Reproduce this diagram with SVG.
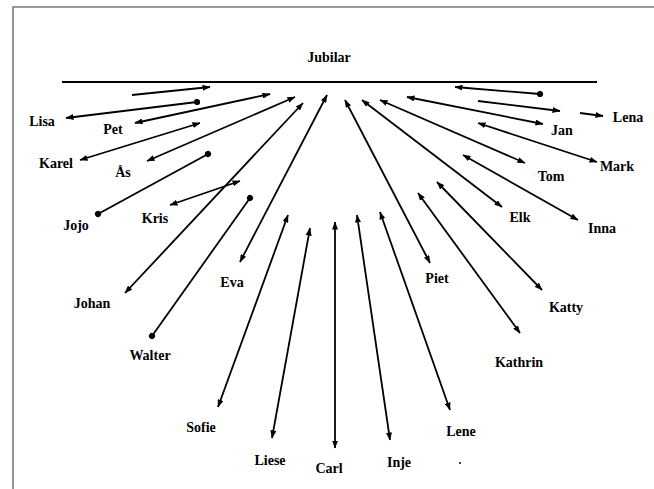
<svg xmlns="http://www.w3.org/2000/svg" width="654" height="489" viewBox="0 0 654 489">
  <style>
    .frame { stroke: #7a7a7a; stroke-width: 1.6; fill: none; }
    .base { stroke: #000; stroke-width: 1.8; }
    .link { stroke: #000; stroke-width: 1.8; fill: none; marker-start: url(#arrow); marker-end: url(#arrow); }
    .link.one { marker-start: none; }
    .link.dots { marker-start: url(#dot); marker-end: url(#dot); }
    .link.dotend { marker-end: url(#dot); }
    .label { font-family: "Liberation Serif", "Times New Roman", serif; font-weight: bold; font-size: 14px; fill: #000; text-anchor: middle; }
  </style>
  <defs>
    <marker id="arrow" viewBox="0 0 8 6" refX="7.5" refY="3" markerWidth="8" markerHeight="6" markerUnits="userSpaceOnUse" orient="auto-start-reverse">
      <path d="M0,0 L8,3 L0,6 z" fill="#000"/>
    </marker>
    <marker id="dot" viewBox="0 0 8 8" refX="4" refY="4" markerWidth="7" markerHeight="7" markerUnits="userSpaceOnUse" orient="auto">
      <circle cx="4" cy="4" r="3.5" fill="#000"/>
    </marker>
  </defs>

  <rect width="654" height="489" fill="#fff"/>

  <!-- page frame, open to the right and bottom -->
  <path class="frame" d="M13,489 V7 H654"/>

  <!-- centre node with its base line -->
  <g id="jubilar">
    <text class="label" x="329" y="62">Jubilar</text>
    <line class="base" x1="62" y1="82" x2="597" y2="82"/>
  </g>

  <g id="connectors">
    <!-- left fan -->
    <line class="link one" x1="132" y1="95" x2="210" y2="87"/>
    <line class="link dotend" x1="66" y1="118" x2="197" y2="102"/>
    <line class="link" x1="135" y1="123" x2="270" y2="94"/>
    <line class="link" x1="80" y1="160" x2="200" y2="123"/>
    <line class="link" x1="147" y1="161" x2="295" y2="97"/>
    <line class="link dots" x1="98" y1="214" x2="208" y2="154"/>
    <line class="link" x1="170" y1="205" x2="240" y2="181"/>
    <line class="link" x1="125" y1="293" x2="303" y2="103"/>
    <line class="link dots" x1="152" y1="336" x2="250" y2="198"/>
    <line class="link" x1="240" y1="262" x2="327" y2="95"/>
    <line class="link" x1="218" y1="407" x2="288" y2="215"/>
    <line class="link" x1="272" y1="438" x2="310" y2="228"/>
    <!-- bottom -->
    <line class="link" x1="335" y1="222" x2="335" y2="448"/>
    <line class="link" x1="357" y1="215" x2="390" y2="440"/>
    <line class="link" x1="380" y1="212" x2="450" y2="410"/>
    <!-- right fan -->
    <line class="link" x1="345" y1="100" x2="430" y2="263"/>
    <line class="link" x1="418" y1="193" x2="520" y2="333"/>
    <line class="link" x1="437" y1="182" x2="542" y2="290"/>
    <line class="link" x1="362" y1="100" x2="502" y2="207"/>
    <line class="link" x1="463" y1="155" x2="578" y2="220"/>
    <line class="link" x1="380" y1="100" x2="525" y2="163"/>
    <line class="link" x1="478" y1="123" x2="597" y2="162"/>
    <line class="link" x1="407" y1="97" x2="543" y2="124"/>
    <line class="link one" x1="478" y1="101" x2="560" y2="111"/>
    <line class="link one" x1="580" y1="113" x2="603" y2="116"/>
    <line class="link dotend" x1="455" y1="87" x2="540" y2="94"/>
  </g>

  <g id="lisa"><text class="label" x="42" y="126">Lisa</text></g>
  <g id="pet"><text class="label" x="113" y="134">Pet</text></g>
  <g id="karl"><text class="label" x="56" y="168">Karel</text></g>
  <g id="as"><text class="label" x="123" y="177">Ås</text></g>
  <g id="jojo"><text class="label" x="76" y="230">Jojo</text></g>
  <g id="kris"><text class="label" x="155" y="223">Kris</text></g>
  <g id="johan"><text class="label" x="92" y="308">Johan</text></g>
  <g id="walter"><text class="label" x="150" y="360">Walter</text></g>
  <g id="eva"><text class="label" x="232" y="287">Eva</text></g>
  <g id="sofie"><text class="label" x="201" y="432">Sofie</text></g>
  <g id="liese"><text class="label" x="270" y="465">Liese</text></g>
  <g id="carl"><text class="label" x="329" y="473">Carl</text></g>
  <g id="inje"><text class="label" x="399" y="467">Inje</text></g>
  <g id="lene"><text class="label" x="461" y="436">Lene</text></g>
  <circle cx="460" cy="463" r="1" fill="#000"/>
  <g id="piet"><text class="label" x="437" y="283">Piet</text></g>
  <g id="katy"><text class="label" x="566" y="312">Katty</text></g>
  <g id="kathrin"><text class="label" x="519" y="367">Kathrin</text></g>
  <g id="ina"><text class="label" x="602" y="233">Inna</text></g>
  <g id="elk"><text class="label" x="520" y="222">Elk</text></g>
  <g id="tom"><text class="label" x="551" y="181">Tom</text></g>
  <g id="mark"><text class="label" x="617" y="171">Mark</text></g>
  <g id="jan"><text class="label" x="562" y="135">Jan</text></g>
  <g id="lena"><text class="label" x="628" y="122">Lena</text></g>
</svg>
